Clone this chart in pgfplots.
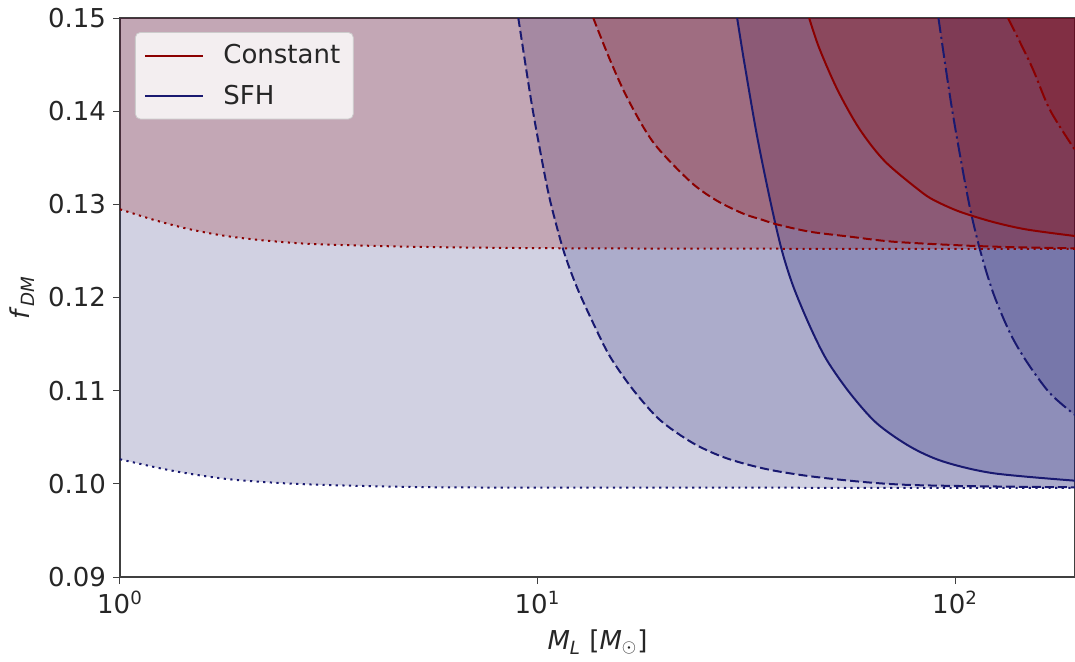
\documentclass[border=0pt]{standalone}
\usepackage{fontspec}
\setmainfont{DejaVu Sans}
\usepackage{pgfplots}
\usepackage{pgfplotstable}
\pgfplotsset{compat=1.18}

\definecolor{cred}{RGB}{139,0,0}
\definecolor{cblue}{RGB}{25,25,112}
\definecolor{txt}{RGB}{38,38,38}

% lower bounds (dotted)
\pgfplotstableread{
x y
1 0.12947
1.202 0.12835
1.445 0.12740
1.736 0.12670
2.086 0.12624
2.508 0.12592
3.013 0.12571
5 0.12545
10 0.12530
30 0.12524
193.8 0.12521
}\rdot
\pgfplotstableread{
x y
1 0.10264
1.334 0.10141
1.83 0.10049
2.79 0.09995
5.26 0.09965
10 0.09960
50 0.09958
193.8 0.09958
}\bdot
% Constant
\pgfplotstableread{
x y
13.6 0.15
14.92 0.14549
16.50 0.14120
19.01 0.13655
23.28 0.13240
26.87 0.13040
31.11 0.12900
34.5 0.12835
37.40 0.12785
44.96 0.12706
55.56 0.12655
71.15 0.12599
102.8 0.12560
138.0 0.12540
193.8 0.12528
}\rdash
\pgfplotstableread{
x y
44.73 0.1500
47.25 0.1468
52.28 0.1423
59.02 0.1381
67.97 0.1346
83.21 0.1313
90.4 0.1303
102.8 0.1292
123.5 0.1281
148.5 0.1273
193.8 0.1266
}\rsol
\pgfplotstableread{
x y
133.9 0.15
152.7 0.14477
168.8 0.14013
193.8 0.13583
}\rdd
% SFH
\pgfplotstableread{
x y
8.995 0.15
9.65 0.14120
10.19 0.13530
10.71 0.13047
11.53 0.12510
12.41 0.12116
13.60 0.11723
14.92 0.11365
16.96 0.11007
19.65 0.10685
23.61 0.10435
28.39 0.10274
36.06 0.10150
49.28 0.10060
78.02 0.09988
193.8 0.09963
}\bdash
\pgfplotstableread{
x y
30.07 0.15
31.23 0.14541
33.50 0.13751
36.06 0.13047
38.46 0.12510
41.00 0.12116
44.96 0.11687
49.28 0.11330
56.04 0.10972
64.93 0.10650
78.02 0.10400
93.76 0.10239
123.5 0.10114
193.8 0.10034
}\bsol
\pgfplotstableread{
x y
91.25 0.15
98.35 0.14022
107.6 0.13047
114.8 0.12510
123.5 0.12045
135.4 0.11620
148.5 0.11310
168.8 0.10972
193.8 0.10739
}\bdd

\begin{document}
\begin{tikzpicture}
\path[use as bounding box] (-60pt,-42pt) rectangle (477.5pt,288.5pt);
\begin{axis}[
  at={(0,0)}, anchor=south west,
  scale only axis, width=477.5pt, height=279.5pt,
  xmode=log, log basis x=10,
  xmin=1, xmax=193.8, ymin=0.09, ymax=0.15,
  xtick={1,10,100},
  xticklabels={10\textsuperscript{0},10\textsuperscript{1},10\textsuperscript{2}},
  ytick={0.09,0.10,0.11,0.12,0.13,0.14,0.15},
  yticklabel style={/pgf/number format/.cd,fixed,fixed zerofill,precision=2,assume math mode=true},
  tick label style={font=\fontsize{13}{15}\selectfont, text=txt},
  tick align=outside, xtick pos=bottom, ytick pos=left,
  major tick length=3.5pt, minor tick length=2pt,
  tick style={black!75, line width=0.5pt},
  axis line style={black!75, line width=0.6pt},
  xlabel={\textit{M}\textsubscript{\textit{L}} [\textit{M}\textsubscript{$\odot$}]},
  ylabel={\textit{f}\textsubscript{\textit{DM}}},
  every axis x label/.style={at={(axis description cs:0.5,-0.093)}, anchor=north, inner sep=0pt,
    font=\fontsize{13}{15}\selectfont, text=txt},
  every axis y label/.style={at={(axis description cs:-0.1026,0.5)}, rotate=90, anchor=center, inner sep=0pt,
    font=\fontsize{13}{15}\selectfont, text=txt},
  legend style={at={(axis description cs:0,1)}, anchor=north west, xshift=7.5pt, yshift=-7pt,
    draw=black!20, fill=white, fill opacity=0.8, text opacity=1, rounded corners=2.5pt,
    font=\fontsize{13}{15}\selectfont, text=txt, inner xsep=4.5pt, inner ysep=4pt, row sep=5pt},
  legend cell align=left,
  legend image code/.code={\draw[#1, line width=1pt] (0pt,0pt) -- (29pt,0pt);},
  /tikz/every odd column/.append style={column sep=7.5pt},
  every axis plot/.append style={smooth},
]
% fills
\addplot[draw=none, fill=cblue, fill opacity=0.2, forget plot] table {\bdot} -- (193.8,0.16) -- (1,0.16) -- cycle;
\addplot[draw=none, fill=cblue, fill opacity=0.2, forget plot] table {\bdash} -- (193.8,0.16) -- (8.995,0.16) -- cycle;
\addplot[draw=none, fill=cblue, fill opacity=0.2, forget plot] table {\bsol} -- (193.8,0.16) -- (30.07,0.16) -- cycle;
\addplot[draw=none, fill=cblue, fill opacity=0.2, forget plot] table {\bdd} -- (193.8,0.16) -- (91.25,0.16) -- cycle;
\addplot[draw=none, fill=cred, fill opacity=0.2, forget plot] table {\rdot} -- (193.8,0.16) -- (1,0.16) -- cycle;
\addplot[draw=none, fill=cred, fill opacity=0.2, forget plot] table {\rdash} -- (193.8,0.16) -- (13.6,0.16) -- cycle;
\addplot[draw=none, fill=cred, fill opacity=0.2, forget plot] table {\rsol} -- (193.8,0.16) -- (44.73,0.16) -- cycle;
\addplot[draw=none, fill=cred, fill opacity=0.2, forget plot] table {\rdd} -- (193.8,0.16) -- (133.9,0.16) -- cycle;
% lines
\addplot[cblue, line width=1pt, dash pattern=on 1.1pt off 2.2pt, forget plot] table {\bdot};
\addplot[cblue, line width=1pt, dash pattern=on 4.5pt off 2pt, forget plot] table {\bdash};
\addplot[cblue, line width=1pt, forget plot] table {\bsol};
\addplot[cblue, line width=1pt, dash pattern=on 7.5pt off 2pt on 1.1pt off 2pt, forget plot] table {\bdd};
\addplot[cred, line width=1pt, dash pattern=on 1.1pt off 2.2pt, forget plot] table {\rdot};
\addplot[cred, line width=1pt, dash pattern=on 4.5pt off 2pt, forget plot] table {\rdash};
\addplot[cred, line width=1pt, forget plot] table {\rsol};
\addplot[cred, line width=1pt, dash pattern=on 7.5pt off 2pt on 1.1pt off 2pt, forget plot] table {\rdd};
\addlegendimage{cred}
\addlegendentry{Constant}
\addlegendimage{cblue}
\addlegendentry{SFH}
\end{axis}
\end{tikzpicture}
\end{document}
